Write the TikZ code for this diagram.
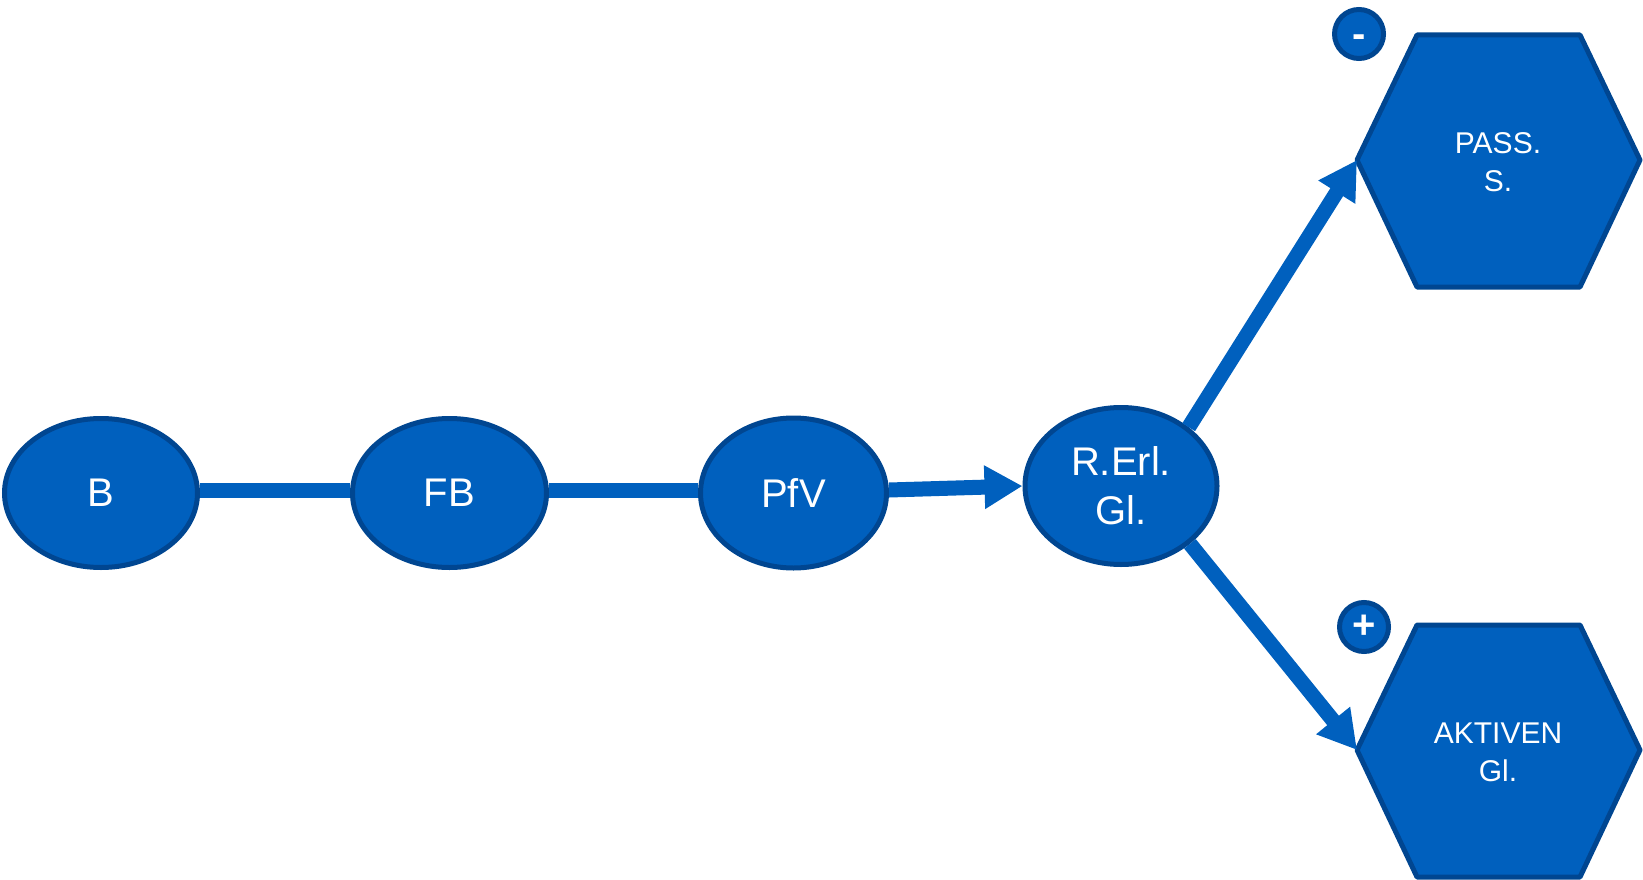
\documentclass[tikz,border=0pt]{standalone}
\usepackage{fontspec}
\setmainfont{Liberation Sans}
\usetikzlibrary{shapes.geometric,arrows.meta}
\definecolor{mainblue}{RGB}{0,96,190}
\definecolor{darkblue}{RGB}{0,70,145}
\begin{document}
\begin{tikzpicture}[x=1pt,y=-1pt,
  ell/.style={ellipse, fill=mainblue, draw=darkblue, line width=5pt, inner sep=0pt, text=white, align=center, font=\fontsize{40}{49}\selectfont},
  conn/.style={draw=mainblue, line width=15pt},
  arr/.style={conn, -{Triangle[length=38pt,width=41pt]}},
  hexshape/.style={fill=mainblue, draw=darkblue, line width=5pt, line join=round},
  hextext/.style={text=white, align=center, inner sep=0pt, font=\fontsize{30}{38}\selectfont},
  sign/.style={circle, fill=mainblue, draw=darkblue, line width=5pt, minimum size=49pt, inner sep=0pt, text=white, font=\bfseries\fontsize{40}{40}\selectfont}]
\useasboundingbox (0,0) rectangle (1643,880);
% ellipses
\node[ell, minimum width=193pt, minimum height=149pt] (b) at (101,493) {B};
\node[ell, minimum width=194pt, minimum height=149pt] (fb) at (449.5,493) {FB};
\node[ell, minimum width=186pt, minimum height=150pt] (pfv) at (793.5,493) {PfV};
\node[ell, minimum width=192pt, minimum height=157pt] (rerl) at (1121,486) {R.Erl.\\Gl.};
% hexagons
\draw[hexshape] (1357,160) -- (1417,35) -- (1580,35) -- (1640,160) -- (1580,287) -- (1417,287) -- cycle;
\coordinate (passL) at (1357,160);
\node[hextext] (pass) at (1498,162) {PASS.\\S.};
\draw[hexshape] (1357,750) -- (1417,625) -- (1580,625) -- (1640,750) -- (1580,877) -- (1417,877) -- cycle;
\coordinate (aktL) at (1357,750);
\node[hextext] (akt) at (1498,752) {AKTIVEN\\Gl.};
% signs
\node[sign, text height=28pt, text depth=0pt] (minus) at (1359,34) {-};
\node[sign] (plus) at (1364,627) {+};
% connectors
\draw[conn] ([yshift=3pt]b.east) -- ([yshift=3pt]fb.west);
\draw[conn] ([yshift=3pt]fb.east) -- ([yshift=3pt]pfv.west);
\draw[arr] ([yshift=3pt]pfv.east) -- (rerl.west);
\draw[arr] (rerl.41) -- (passL);
\draw[arr] (rerl.-40) -- (aktL);
\end{tikzpicture}
\end{document}
